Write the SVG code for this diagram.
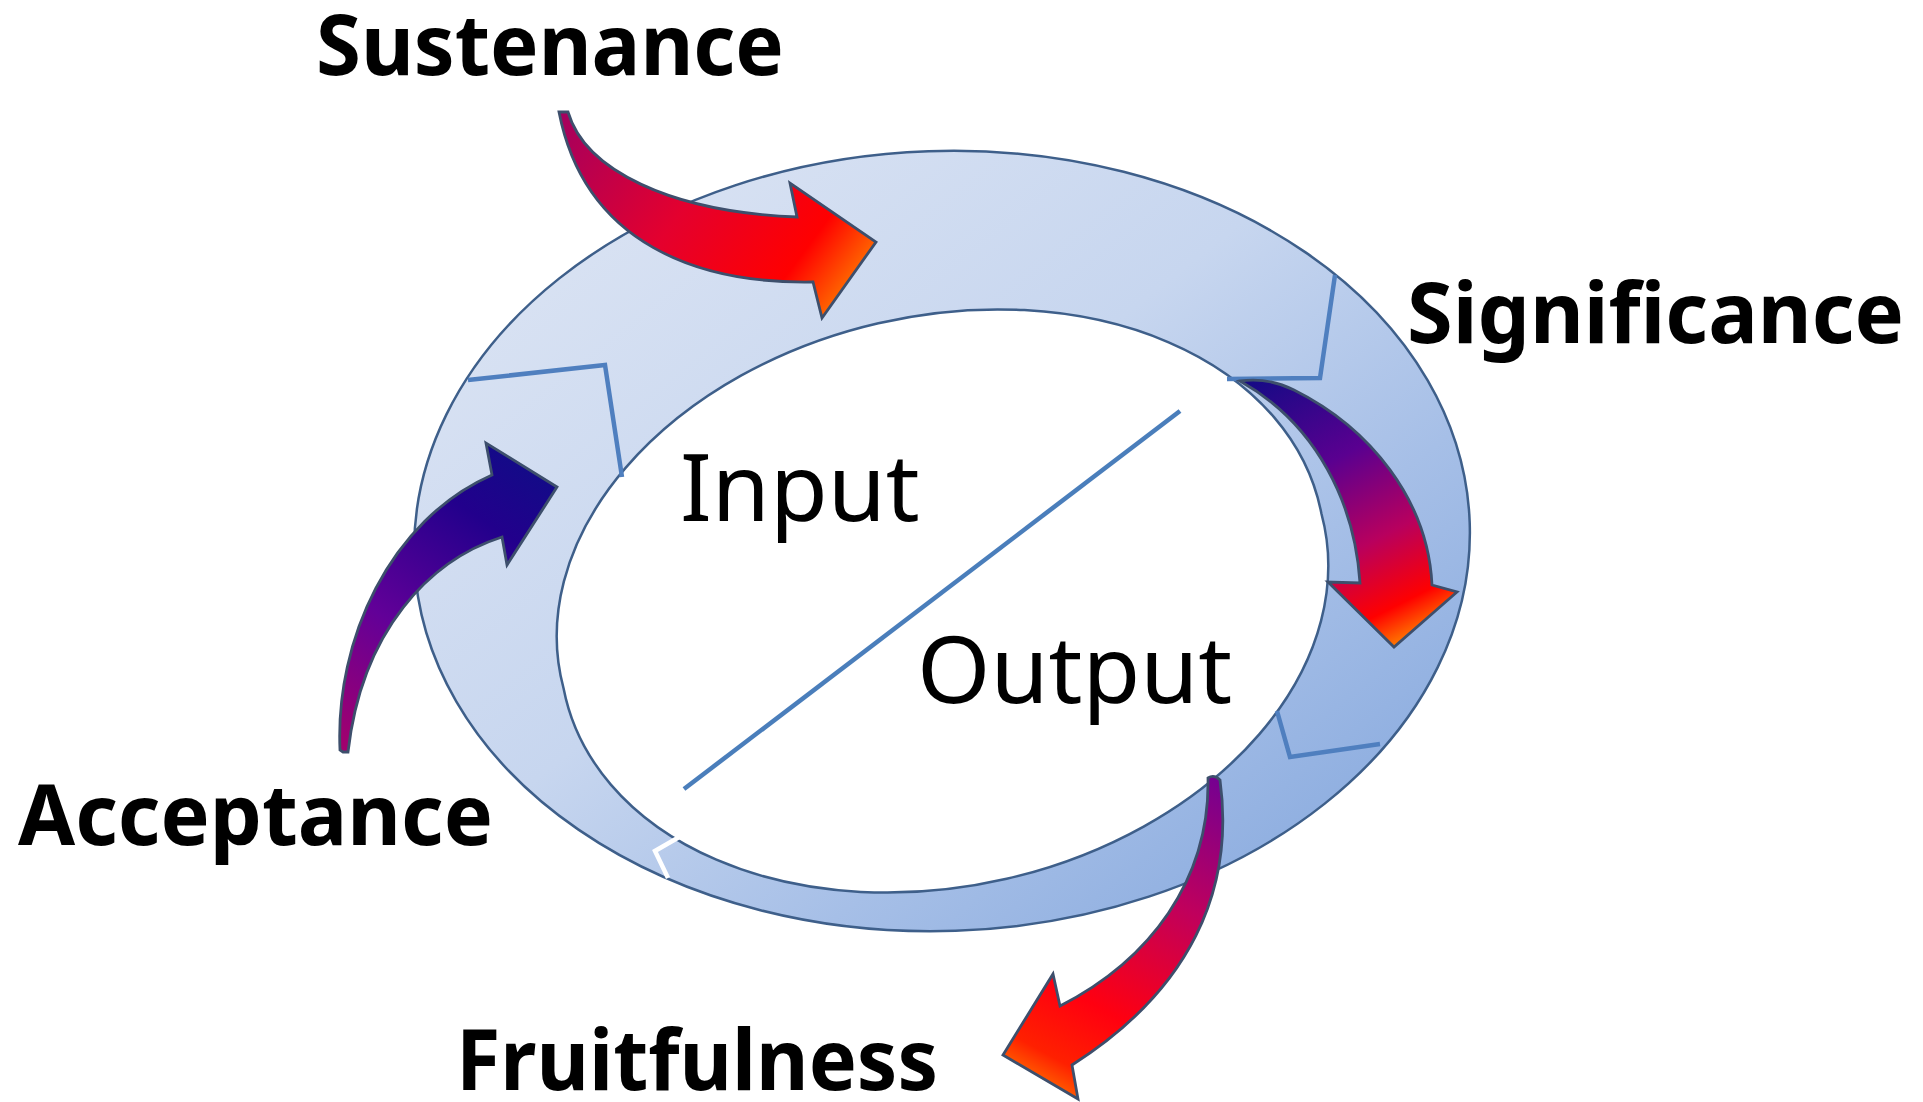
<svg xmlns="http://www.w3.org/2000/svg" width="1923" height="1102" viewBox="0 0 1923 1102">
<style>
.lbl{font-family:"Noto Sans","Open Sans","DejaVu Sans",sans-serif;font-weight:bold;font-size:84px;fill:#000}
.io{font-family:"Noto Sans","Open Sans","DejaVu Sans",sans-serif;font-size:94px;fill:#000}
.sep{fill:none;stroke:#4f7fbf;stroke-width:4.5;stroke-linejoin:miter}
.arrow{stroke:#3d4f6c;stroke-width:2.8;stroke-linejoin:miter}
</style>
<defs>
<linearGradient id="ringGrad" x1="0.1" y1="0.1" x2="0.9" y2="0.85">
<stop offset="0" stop-color="#dae3f3"/>
<stop offset="0.45" stop-color="#c7d6ef"/>
<stop offset="0.75" stop-color="#a6bfe7"/>
<stop offset="1" stop-color="#8eaee0"/>
</linearGradient>
<linearGradient id="gSust" gradientUnits="userSpaceOnUse" x1="560" y1="112" x2="840" y2="320">
<stop offset="0" stop-color="#a3005f"/>
<stop offset="0.45" stop-color="#e4002e"/>
<stop offset="0.8" stop-color="#ff0000"/>
<stop offset="1" stop-color="#ff8000"/>
</linearGradient>
<linearGradient id="gSig" gradientUnits="userSpaceOnUse" x1="1260" y1="380" x2="1394" y2="647">
<stop offset="0" stop-color="#180a86"/>
<stop offset="0.35" stop-color="#5a0090"/>
<stop offset="0.65" stop-color="#b8005e"/>
<stop offset="0.88" stop-color="#ff0000"/>
<stop offset="1" stop-color="#ff7a00"/>
</linearGradient>
<linearGradient id="gAcc" gradientUnits="userSpaceOnUse" x1="343" y1="752" x2="530" y2="470">
<stop offset="0" stop-color="#a4006c"/>
<stop offset="0.4" stop-color="#620098"/>
<stop offset="0.8" stop-color="#22008c"/>
<stop offset="1" stop-color="#140a88"/>
</linearGradient>
<linearGradient id="gFruit" gradientUnits="userSpaceOnUse" x1="1215" y1="780" x2="1040" y2="1100">
<stop offset="0" stop-color="#760090"/>
<stop offset="0.35" stop-color="#c0005c"/>
<stop offset="0.7" stop-color="#ff0010"/>
<stop offset="0.88" stop-color="#ff2000"/>
<stop offset="1" stop-color="#ff8000"/>
</linearGradient>
</defs>
<rect width="1923" height="1102" fill="#ffffff"/>
<g id="ring">
<path fill="url(#ringGrad)" fill-rule="evenodd" stroke="#3e5f8a" stroke-width="2.5" d="M414.3,559.4 A528,390 -2 1 1 1469.7,522.6 A528,390 -2 1 1 414.3,559.4 Z M563.6,688.5 A389,278 -13 1 1 1321.4,513.5 A389,278 -13 1 1 563.6,688.5 Z"/>
</g>
<g id="separators">
<polyline class="sep" points="468,380 605,365 622,477"/>
<polyline class="sep" points="1335,275 1320,378 1227,379"/>
<polyline class="sep" points="1277,711 1290,757 1380,744"/>
<polyline class="sep" style="stroke:#ffffff" points="681,836 655,851 668,878"/>
</g>
<g id="divider">
<line x1="1180" y1="411" x2="684" y2="789" stroke="#4a7ebb" stroke-width="4.5"/>
</g>
<g id="connectors">
<path id="arrow-sustenance" class="arrow" fill="url(#gSust)" d="M568,112 C585,170 670,212 797,217 L790,183 L876,242 L822,318 L813,282 C700,284 585,245 559,112 Z"/>
<path id="arrow-significance" class="arrow" fill="url(#gSig)" d="M1240,381 Q1268,377 1294,390 C1370,428 1428,500 1432,585 L1457,592 L1394,647 L1328,582 L1360,583 C1355,505 1318,425 1240,381 Z"/>
<path id="arrow-acceptance" class="arrow" fill="url(#gAcc)" d="M343,752 L340,750 C335,640 390,520 492,475 L486,443 L557,487 L507,565 L502,537 C430,560 362,630 348,752 Z"/>
<path id="arrow-fruitfulness" class="arrow" fill="url(#gFruit)" d="M1208,778 Q1214,774 1220,780 C1235,890 1190,990 1072,1065 L1078,1099 L1003,1055 L1053,974 L1060,1006 C1150,960 1210,880 1208,778 Z"/>
</g>
<g id="label-sustenance"><text class="lbl" x="316" y="75" textLength="468" lengthAdjust="spacingAndGlyphs">Sustenance</text></g>
<g id="label-significance"><text class="lbl" x="1407" y="343" textLength="497" lengthAdjust="spacingAndGlyphs">Significance</text></g>
<g id="label-acceptance"><text class="lbl" x="18" y="845" textLength="475" lengthAdjust="spacingAndGlyphs">Acceptance</text></g>
<g id="label-fruitfulness"><text class="lbl" x="456" y="1090" textLength="482" lengthAdjust="spacingAndGlyphs">Fruitfulness</text></g>
<g id="label-input"><text class="io" x="680" y="521">Input</text></g>
<g id="label-output"><text class="io" x="917" y="703">Output</text></g>
</svg>
